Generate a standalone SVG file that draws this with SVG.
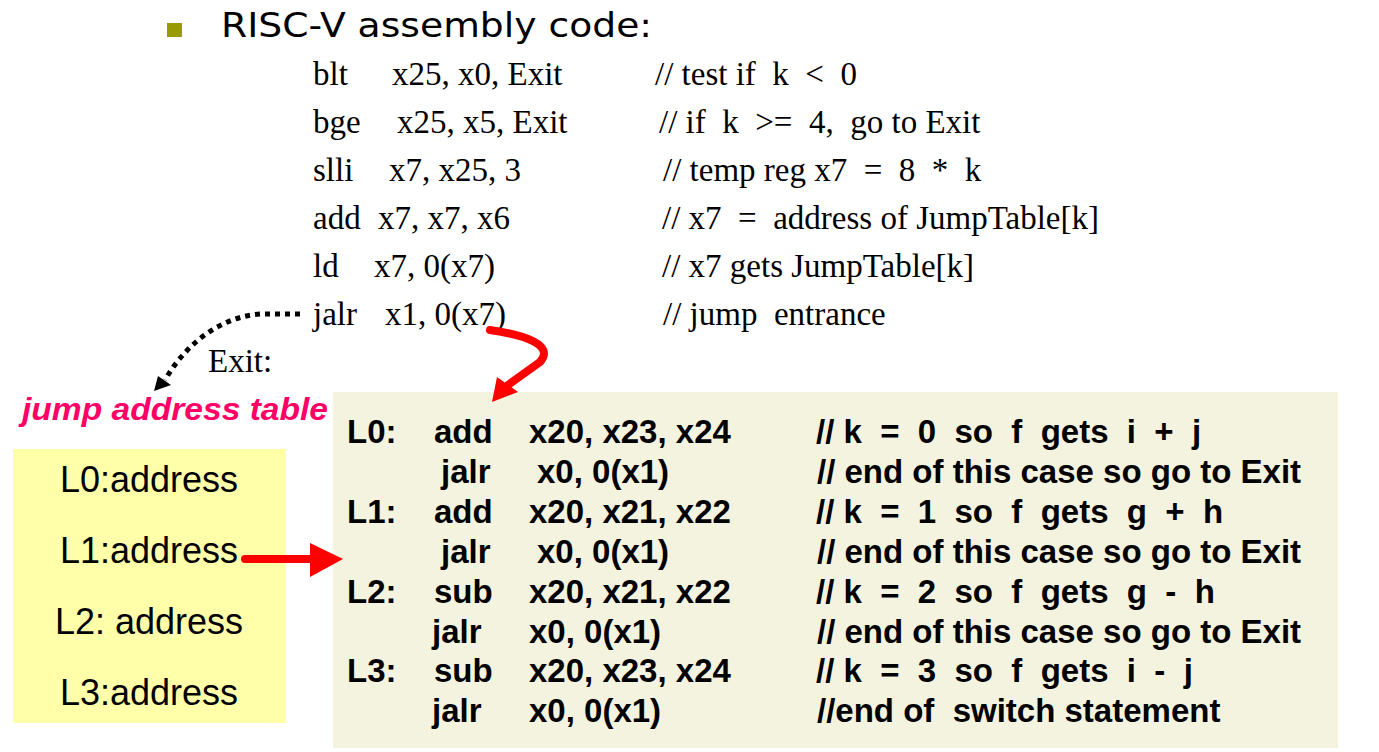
<svg xmlns="http://www.w3.org/2000/svg" width="1379" height="752" viewBox="0 0 1379 752">
<style>
text{white-space:pre}
.serif{font-family:"Liberation Serif","Times New Roman",serif;font-size:33px;fill:#000}
.bold{font-family:"Liberation Sans",Arial,sans-serif;font-size:33px;font-weight:bold;fill:#000}
.sans{font-family:"Liberation Sans",Arial,sans-serif;font-size:36px;fill:#000}
.title{font-family:"DejaVu Sans",Verdana,sans-serif;font-size:34px;fill:#000}
.table-title{font-family:"Liberation Sans",Arial,sans-serif;font-size:32px;font-weight:bold;font-style:italic;fill:#ff0066}
</style>
<rect width="1379" height="752" fill="#ffffff"/>

<g id="title">
<rect x="167" y="23" width="15" height="14" fill="#999900"/>
<text class="title" x="221" y="37" textLength="431" lengthAdjust="spacingAndGlyphs">RISC-V assembly code:</text>
</g>

<g id="code">
<text class="serif" x="313" y="85">blt</text><text class="serif" x="392" y="85">x25, x0, Exit</text><text class="serif" x="655" y="85">// test if  k  &lt;  0</text>
<text class="serif" x="313" y="133">bge</text><text class="serif" x="397" y="133">x25, x5, Exit</text><text class="serif" x="659" y="133">// if  k  &gt;=  4,  go to Exit</text>
<text class="serif" x="313" y="181">slli</text><text class="serif" x="389" y="181">x7, x25, 3</text><text class="serif" x="663" y="181">// temp reg x7  =  8  *  k</text>
<text class="serif" x="313" y="229">add</text><text class="serif" x="378" y="229">x7, x7, x6</text><text class="serif" x="662" y="229">// x7  =  address of JumpTable[k]</text>
<text class="serif" x="313" y="277">ld</text><text class="serif" x="374" y="277">x7, 0(x7)</text><text class="serif" x="662" y="277">// x7 gets JumpTable[k]</text>
<text class="serif" x="313" y="325">jalr</text><text class="serif" x="385" y="325">x1, 0(x7)</text><text class="serif" x="663" y="325">// jump  entrance</text>
</g>

<g id="exit-label">
<text class="serif" x="208" y="372">Exit:</text>
</g>

<g id="jump-table">
<text class="table-title" x="22" y="420" textLength="306" lengthAdjust="spacingAndGlyphs">jump address table</text>
<rect x="13" y="449" width="273" height="274" fill="#ffffaa"/>
<text class="sans" x="149" y="492" text-anchor="middle">L0:address</text>
<text class="sans" x="149" y="563" text-anchor="middle">L1:address</text>
<text class="sans" x="149" y="634" text-anchor="middle">L2: address</text>
<text class="sans" x="149" y="705" text-anchor="middle">L3:address</text>
</g>

<g id="cases">
<rect x="333" y="392" width="1005" height="356" fill="#f3f3e0"/>
<text class="bold" x="347" y="443">L0:</text><text class="bold" x="434" y="443">add</text><text class="bold" x="529" y="443">x20, x23, x24</text><text class="bold" x="816" y="443">// k  =  0  so  f  gets  i  +  j</text>
<text class="bold" x="441" y="483">jalr</text><text class="bold" x="537" y="483">x0, 0(x1)</text><text class="bold" x="817" y="483">// end of this case so go to Exit</text>
<text class="bold" x="347" y="523">L1:</text><text class="bold" x="434" y="523">add</text><text class="bold" x="529" y="523">x20, x21, x22</text><text class="bold" x="816" y="523">// k  =  1  so  f  gets  g  +  h</text>
<text class="bold" x="441" y="563">jalr</text><text class="bold" x="537" y="563">x0, 0(x1)</text><text class="bold" x="817" y="563">// end of this case so go to Exit</text>
<text class="bold" x="347" y="603">L2:</text><text class="bold" x="434" y="603">sub</text><text class="bold" x="529" y="603">x20, x21, x22</text><text class="bold" x="816" y="603">// k  =  2  so  f  gets  g  -  h</text>
<text class="bold" x="432" y="643">jalr</text><text class="bold" x="529" y="643">x0, 0(x1)</text><text class="bold" x="817" y="643">// end of this case so go to Exit</text>
<text class="bold" x="347" y="682">L3:</text><text class="bold" x="434" y="682">sub</text><text class="bold" x="529" y="682">x20, x23, x24</text><text class="bold" x="816" y="682">// k  =  3  so  f  gets  i  -  j</text>
<text class="bold" x="432" y="722">jalr</text><text class="bold" x="529" y="722">x0, 0(x1)</text><text class="bold" x="817" y="722">//end of  switch statement</text>
</g>

<g id="connectors">
<path d="M 300 314 L 262 314 C 220 316 185 345 165 380" fill="none" stroke="#000" stroke-width="5" stroke-dasharray="5 5"/>
<polygon points="154,391 158,376 171,385" fill="#000"/>
<path d="M 490 330 C 525 335 555 345 540 362 L 508 385" fill="none" stroke="#ff0000" stroke-width="8" stroke-linecap="round" stroke-linejoin="round"/>
<polygon points="492,402 497,377 518,392" fill="#ff0000"/>
<path d="M 245 559 L 312 559" fill="none" stroke="#ff0000" stroke-width="8" stroke-linecap="round"/>
<polygon points="310,543 343,559 310,577" fill="#ff0000"/>
</g>
</svg>
